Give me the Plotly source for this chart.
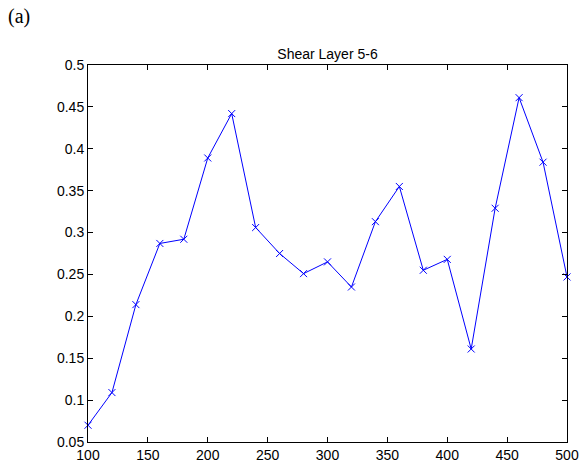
import plotly.graph_objects as go

x_vals = [100, 120, 140, 160, 180, 200, 220, 240, 260, 280, 300,
          320, 340, 360, 380, 400, 420, 440, 460, 480, 500]
y_vals = [0.070, 0.109, 0.214, 0.287, 0.292, 0.389, 0.442, 0.306, 0.275, 0.251, 0.265,
          0.235, 0.313, 0.355, 0.255, 0.268, 0.161, 0.329, 0.461, 0.384, 0.247]
x_ticks = [100, 150, 200, 250, 300, 350, 400, 450, 500]
y_ticks = [0.05, 0.1, 0.15, 0.2, 0.25, 0.3, 0.35, 0.4, 0.45, 0.5]
y_tick_text = ["0.05", "0.1", "0.15", "0.2", "0.25", "0.3", "0.35", "0.4", "0.45", "0.5"]

L, R, T, B = 88, 14, 65, 25
W, H = 581, 467
PW, PH = W - L - R, H - T - B

fig = go.Figure()
fig.add_trace(go.Scatter(
    x=x_vals, y=y_vals, mode="lines+markers",
    line=dict(color="#0000ff", width=1),
    marker=dict(symbol="x-thin", size=7, line=dict(color="#0000ff", width=1), color="#0000ff"),
    showlegend=False, cliponaxis=False,
))

font_sans = "Liberation Sans, Arial, sans-serif"
axis_common = dict(
    showgrid=False, zeroline=False, showline=True, linecolor="black", linewidth=1,
    mirror="ticks", ticks="inside", ticklen=5, tickcolor="black", tickwidth=1,
    automargin=False,
    tickfont=dict(family=font_sans, size=14, color="black"),
)
fig.update_layout(
    width=W, height=H,
    margin=dict(l=L, r=R, t=T, b=B, autoexpand=False),
    paper_bgcolor="white", plot_bgcolor="white",
    title=dict(text="Shear Layer 5-6", x=(L + PW / 2) / W, xanchor="center",
               y=1 - 59 / H, yanchor="bottom",
               font=dict(family=font_sans, size=14, color="black")),
    xaxis=dict(range=[100, 500], tickvals=x_ticks, ticktext=[str(t) for t in x_ticks], **axis_common),
    yaxis=dict(range=[0.05, 0.5], tickvals=y_ticks, ticktext=y_tick_text, **axis_common),
    annotations=[dict(text="(a)", x=(6 - L) / PW, y=1 + (T - 3) / PH, xref="paper", yref="paper",
                      showarrow=False, xanchor="left", yanchor="top",
                      font=dict(family="Liberation Serif, Times New Roman, serif", size=20, color="black"))],
)
fig.write_html("out.html")
